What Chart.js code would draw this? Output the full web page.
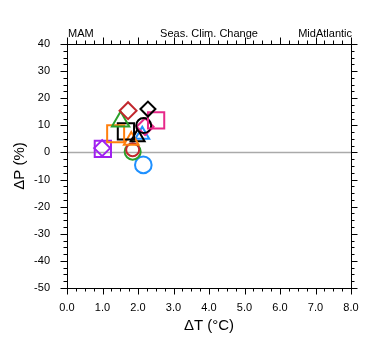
<!DOCTYPE html>
<html><head><meta charset="utf-8">
<script src="https://cdn.jsdelivr.net/npm/chart.js@4.4.1/dist/chart.umd.min.js"></script>
<style>html,body{margin:0;padding:0;background:#fff}</style>
</head><body>
<canvas id="c" width="380" height="355"></canvas>
<script>
// ---- text ----
const titleLeft = 'MAM';
const titleCenter = 'Seas. Clim. Change';
const titleRight = 'MidAtlantic';
const xTitle = 'ΔT (°C)';
const yTitle = 'ΔP (%)';

// ---- axis ranges / ticks ----
const xRange = [0, 8];
const yRange = [-50, 40];
const xMajorStep = 1, xMinorStep = 0.25;
const yMajorStep = 10, yMinorStep = 2.5;

// ---- data (one point per member) ----
const seriesNames = ['m1','m2','m3','m4','m5','m6','m7','m8','m9','m10','m11','m12','m13','m14','m15','m16'];
const deltaT = [1.72, 2.28, 1.51, 2.51, 2.16, 2.20, 1.37, 1.66, 1.81, 1.99, 2.12, 1.85, 1.85, 2.15, 0.99, 1.01];
const deltaP = [15.4, 16.0, 11.4, 11.8, 9.9, 9.5, 6.9, 7.8, 4.4, 5.6, 6.5, 1.0, 0.3, -4.6, 1.6, 1.3];
const zeroLineX = [0, 8];
const zeroLineY = [0, 0];

// ---- styles ----
const shapes = ['rectRot','rectRot','triangle','rect','circle','rectRot','rect','rect','triangle','triangle','triangle','circle','circle','circle','rectRot','rect'];
const colors = ['#c1272d','#000000','#2ca02c','#e7298a','#000000','#e7298a','#ff7f0e','#000000','#ff7f0e','#000000','#1e90ff','#c1272d','#2ca02c','#1e90ff','#a020f0','#a020f0'];
const radii  = [8.5, 7.5, 10, 11.5, 7.5, 8.5, 12, 11.5, 8.5, 8, 8, 6.5, 8, 8.3, 8, 11.5];

const FONT = "'Liberation Sans', Arial, Helvetica, sans-serif";

const datasets = seriesNames.map((name, i) => ({
  label: name,
  type: 'scatter',
  data: [{x: deltaT[i], y: deltaP[i]}],
  pointStyle: shapes[i],
  pointRadius: radii[i],
  pointHoverRadius: radii[i],
  borderColor: colors[i],
  backgroundColor: 'rgba(0,0,0,0)',
  pointBorderWidth: 2,
  borderWidth: 2,
  order: 1
}));
datasets.push({
  label: 'zero',
  type: 'line',
  data: zeroLineX.map((x, i) => ({x, y: zeroLineY[i]})),
  borderColor: '#aaaaaa',
  borderWidth: 1.5,
  pointRadius: 0,
  fill: false,
  order: 100
});

const isMult = (v, s) => Math.abs(v / s - Math.round(v / s)) < 1e-6;

const framePlugin = {
  id: 'frame',
  afterDraw(chart) {
    const {ctx, chartArea: {left, right, top, bottom}, scales: {x, y}} = chart;
    ctx.save();
    ctx.strokeStyle = '#000';
    ctx.lineWidth = 1;
    ctx.beginPath();
    for (let v = xRange[0]; v <= xRange[1] + 1e-9; v += xMinorStep) {
      const px = Math.round(x.getPixelForValue(v)) + 0.5;
      const L = isMult(v, xMajorStep) ? 6.5 : 3.5;
      ctx.moveTo(px, bottom); ctx.lineTo(px, bottom + L);
      ctx.moveTo(px, top); ctx.lineTo(px, top - L);
    }
    for (let v = yRange[0]; v <= yRange[1] + 1e-9; v += yMinorStep) {
      const py = Math.round(y.getPixelForValue(v)) + 0.5;
      const L = isMult(v, yMajorStep) ? 6.5 : 3.5;
      ctx.moveTo(left, py); ctx.lineTo(left - L, py);
      ctx.moveTo(right, py); ctx.lineTo(right + L, py);
    }
    ctx.stroke();
    ctx.strokeRect(left + 0.5, top + 0.5, right - left, bottom - top);
    ctx.fillStyle = '#000';
    ctx.font = '11px ' + FONT;
    ctx.textBaseline = 'alphabetic';
    ctx.textAlign = 'left';
    ctx.fillText(titleLeft, left + 1, top - 7);
    ctx.textAlign = 'center';
    ctx.fillText(titleCenter, (left + right) / 2, top - 7);
    ctx.textAlign = 'right';
    ctx.fillText(titleRight, right + 1, top - 7);
    ctx.restore();
  }
};

new Chart(document.getElementById('c'), {
  data: {datasets},
  options: {
    responsive: false,
    animation: false,
    events: [],
    layout: {padding: {top: 44, right: 29, left: 0, bottom: 0}},
    plugins: {legend: {display: false}, tooltip: {enabled: false}},
    scales: {
      x: {
        type: 'linear', position: 'bottom',
        min: xRange[0], max: xRange[1],
        grid: {display: false, drawTicks: false},
        border: {display: false},
        ticks: {stepSize: xMajorStep, padding: 13, color: '#000', font: {size: 11, family: FONT},
                callback: v => Number(v).toFixed(1), maxRotation: 0, autoSkip: false},
        title: {display: true, text: xTitle, color: '#000', font: {size: 15, family: FONT}, padding: {top: 0, bottom: 20}},
        afterFit: s => { s.height = 67; }
      },
      y: {
        type: 'linear', position: 'left',
        min: yRange[0], max: yRange[1],
        grid: {display: false, drawTicks: false},
        border: {display: false},
        ticks: {stepSize: yMajorStep, padding: 17, color: '#000', font: {size: 11, family: FONT}, autoSkip: false},
        title: {display: true, text: yTitle, color: '#000', font: {size: 15, family: FONT}, padding: {top: 11, bottom: 0}},
        afterFit: s => { s.width = 67; }
      }
    }
  },
  plugins: [framePlugin]
});
</script>
</body></html>
